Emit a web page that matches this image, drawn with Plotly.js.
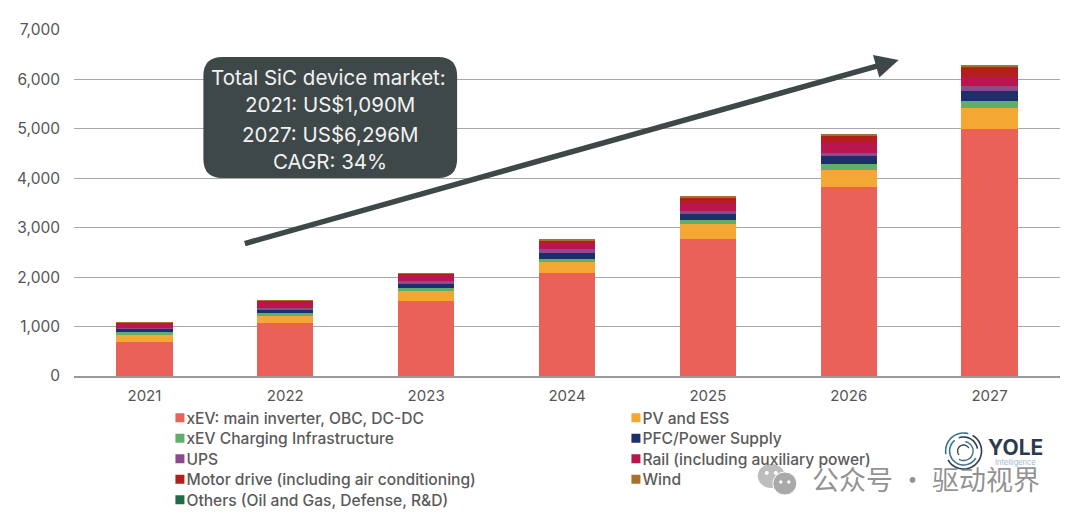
<!DOCTYPE html>
<html><head><meta charset="utf-8">
<script src="https://cdn.plot.ly/plotly-3.0.1.min.js"></script>
<style>html,body{margin:0;padding:0;background:#fff}#c{width:1080px;height:522px}</style>
</head><body><div id="c"></div>
<script>
const years = ['2021','2022','2023','2024','2025','2026','2027'];
const xev      = [685,1070,1520,2075,2775,3820,4995];
const pv       = [150,135,205,235,300,350,425];
const charging = [50,70,65,67,90,115,150];
const pfc      = [70,70,70,114,105,165,190];
const ups      = [15,35,60,85,65,70,100];
const rail     = [105,130,130,110,155,210,180];
const motor    = [10,15,20,60,125,130,210];
const others   = [1,1,1,1,1,1,1];
const wind     = [4,4,4,23,34,39,45];

const seriesList = [
  ['xEV: main inverter, OBC, DC-DC', xev, '#ea6257', 1],
  ['PV and ESS', pv, '#f5a733', 2],
  ['xEV Charging Infrastructure', charging, '#5fae6c', 3],
  ['PFC/Power Supply', pfc, '#1d2f68', 4],
  ['UPS', ups, '#8c4a8c', 5],
  ['Rail (including auxiliary power)', rail, '#b9164f', 6],
  ['Motor drive (including air conditioning)', motor, '#b3201c', 7],
  ['Others (Oil and Gas, Defense, R&D)', others, '#1f6b4a', 9],
  ['Wind', wind, '#a8702a', 8]
];
const FONT = 'Inter, "Open Sans", sans-serif';
const W=1080,H=522,L=73.5,R=19.5,T=30,B=146;
const px = v => (v-L)/(W-L-R);
const py = v => (H-B-v)/(H-T-B);
const DARK='#3f4849';

const traces = seriesList.map(s => ({
  type:'bar', name:s[0], x:years, y:s[1], legendrank:s[3],
  marker:{color:s[2], line:{width:0}}, hoverinfo:'name+y'
}));

function roundRect(x0,y0,x1,y1,r){
  return `M${x0+r},${y0}L${x1-r},${y0}Q${x1},${y0} ${x1},${y0+r}L${x1},${y1-r}Q${x1},${y1} ${x1-r},${y1}L${x0+r},${y1}Q${x0},${y1} ${x0},${y1-r}L${x0},${y0+r}Q${x0},${y0} ${x0+r},${y0}Z`;
}
function arc(cx,cy,r,a0,a1){
  let d='';
  for(let i=0;i<=24;i++){const a=(a0+(a1-a0)*i/24)*Math.PI/180;
    d+=(i?'L':'M')+(cx+r*Math.cos(a)).toFixed(1)+','+(cy+r*Math.sin(a)).toFixed(1);}
  return d;
}
const pxShape=(o)=>Object.assign({xref:'paper',yref:'paper',layer:'above'},o);
function pathPx(d){
  return d.replace(/([\d.]+)[, ]([\d.]+)/g,(m,a,b)=>px(+a).toFixed(5)+','+py(+b).toFixed(5));
}
const dot=(x,y,r,c)=>pxShape({type:'circle',x0:px(x-r),x1:px(x+r),y0:py(y+r),y1:py(y-r),fillcolor:c,line:{width:0}});
const LOGO='#3d7390';
const shapes=[
  pxShape({type:'path',path:pathPx(roundRect(203,57,457,178,19)),fillcolor:DARK,line:{width:0}}),
  pxShape({type:'path',path:pathPx(arc(964,451,18,-60,150)),line:{color:'#2f3f55',width:1.6}}),
  pxShape({type:'path',path:pathPx(arc(964,451,18,170,285)),line:{color:LOGO,width:1.6}}),
  pxShape({type:'path',path:pathPx(arc(964,451,14,30,230)),line:{color:LOGO,width:1.6}}),
  pxShape({type:'path',path:pathPx(arc(964,451,14,250,350)),line:{color:'#2f3f55',width:1.6}}),
  pxShape({type:'path',path:pathPx(arc(964,451,9.5,-80,120)),line:{color:LOGO,width:1.4}}),
  pxShape({type:'path',path:pathPx(arc(964,451,6,140,330)),line:{color:'#2f3f55',width:1.3}}),
  pxShape({type:'circle',x0:px(758),x1:px(785),y0:py(488),y1:py(464),fillcolor:'#bdbdbd',line:{width:0}}),
  pxShape({type:'circle',x0:px(773),x1:px(797),y0:py(495),y1:py(472),fillcolor:'#a9a9a9',line:{color:'#ffffff',width:1}}),
  dot(767,473,2,'#fff'),dot(776,473,2,'#fff'),dot(781,482,1.7,'#fff'),dot(789,482,1.7,'#fff')
];
const txt=(text,x,y,size,color,extra)=>Object.assign({text,xref:'paper',yref:'paper',x:px(x),y:py(y),
  showarrow:false,font:{family:FONT,size,color},xanchor:'center',yanchor:'middle'},extra||{});
const annotations=[
  txt('Total SiC device market:',328,77,20.5,'#f2f2f2'),
  txt('2021: US$1,090M',330,105,20.5,'#f2f2f2'),
  txt('2027: US$6,296M',330,134,20.5,'#f2f2f2'),
  txt('CAGR: 34%',330,161,20.5,'#f2f2f2'),
  {xref:'paper',yref:'paper',axref:'paper',ayref:'paper',x:px(899),y:py(60),ax:px(243),ay:py(244),
   text:'',showarrow:true,arrowhead:2,arrowsize:0.85,arrowwidth:5.5,arrowcolor:DARK,standoff:0,startstandoff:0},
  txt('YOLE',1016,447,21,'#2c3a4e',{font:{family:FONT,size:21,color:'#2c3a4e',weight:700}}),
  txt('Intelligence',1016,462,7.5,'#9db8cc'),
  txt('公众号 · 驱动视界',926,478,27,'#8a8a8a',{font:{family:'"Noto Sans CJK SC"',size:27,color:'rgba(110,110,110,0.75)'}})
];
const layout={
  width:W,height:H,barmode:'stack',bargap:0.6,showlegend:true,
  paper_bgcolor:'#fff',plot_bgcolor:'#fff',
  font:{family:FONT,color:'#555'},
  margin:{l:L,r:R,t:T,b:B,pad:0,autoexpand:false},
  xaxis:{type:'category',tickfont:{size:15,color:'#555'},ticks:'',showline:true,linecolor:'#9a9a9a',linewidth:1.5,showgrid:false,automargin:false,ticklabelstandoff:5},
  yaxis:{range:[0,7000],dtick:1000,tickformat:',d',tickfont:{size:15.5,color:'#555'},gridcolor:'#a8a8a8',gridwidth:1.3,zeroline:false,ticks:'',ticklabelstandoff:13,automargin:false},
  legend:{orientation:'h',x:px(146),y:py(401),xanchor:'left',yanchor:'top',traceorder:'normal',
    entrywidth:411,entrywidthmode:'pixels',font:{size:15.6,weight:500,color:'#5a5a5a',family:FONT},bgcolor:'rgba(0,0,0,0)',itemclick:false,itemdoubleclick:false},
  shapes,annotations
};
Plotly.newPlot('c',traces,layout,{displayModeBar:false}).then(gd=>{
  // Tighten the native legend to the reference's swatch size and row pitch.
  gd.querySelectorAll('.legend .legendpoints path').forEach(p=>{
    p.setAttribute('d','M4.5,4.5H-4.5V-4.5H4.5Z');
    p.setAttribute('transform','translate(33.5,0)');
  });
  const rows=[...gd.querySelectorAll('.legend .traces')];
  const ys=rows.map(r=>{const m=/translate\(\s*([-\d.]+)[ ,]+([-\d.]+)/.exec(r.getAttribute('transform'));return [+m[1],+m[2]];});
  const y0=Math.min(...ys.map(v=>v[1]));
  const uniq=[...new Set(ys.map(v=>v[1]))].sort((a,b)=>a-b);
  rows.forEach((r,i)=>r.setAttribute('transform',`translate(${ys[i][0]},${y0+uniq.indexOf(ys[i][1])*20.5})`));
});
</script></body></html>
